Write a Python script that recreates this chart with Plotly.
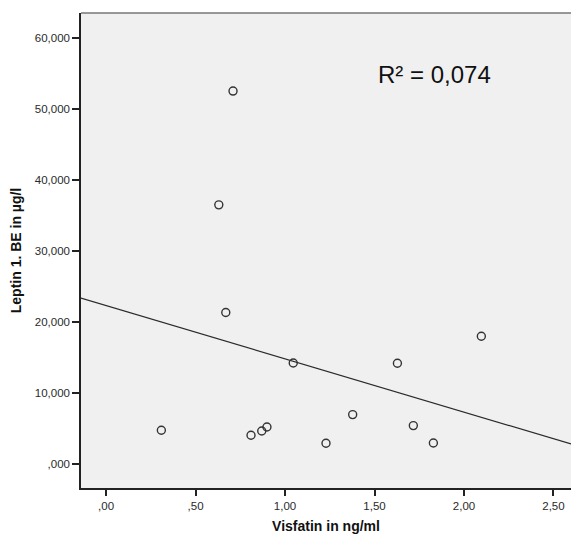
import numpy as np
import plotly.graph_objects as go

# Visfatin (ng/ml) vs. Leptin at first blood draw (µg/l)
visfatin = [0.309, 0.810, 0.870, 0.899, 1.046, 1.229, 1.378, 1.628, 1.717,
            1.829, 2.097, 0.7095, 0.630, 0.669]
leptin = [4.783, 4.080, 4.685, 5.250, 14.250, 2.955, 6.990, 14.210, 5.440,
          3.000, 18.010, 52.476, 36.480, 21.340]

x_tickvals = [0.0, 0.5, 1.0, 1.5, 2.0, 2.5]
x_ticktext = [",00", ",50", "1,00", "1,50", "2,00", "2,50"]
y_tickvals = [0, 10, 20, 30, 40, 50, 60]
y_ticktext = [",000", "10,000", "20,000", "30,000", "40,000", "50,000", "60,000"]

r2_label = "R² = 0,074"

x_range = [-0.14, 2.598]
y_range = [-3.33, 63.45]

# Least-squares fit line across the full x range
slope, intercept = np.polyfit(visfatin, leptin, 1)
fit_x = np.array(x_range)
fit_y = slope * fit_x + intercept

fig = go.Figure()
fig.add_trace(go.Scatter(
    x=fit_x, y=fit_y, mode="lines",
    line=dict(color="#2b2b2b", width=1.2),
    hoverinfo="skip", showlegend=False,
))
fig.add_trace(go.Scatter(
    x=visfatin, y=leptin, mode="markers",
    marker=dict(symbol="circle-open", size=8, color="#333333",
                line=dict(width=1.4, color="#333333")),
    showlegend=False,
))

tick_font = dict(family="Liberation Sans, Arial, sans-serif", size=11.5, color="#2a2a2a")
title_font = dict(family="Liberation Sans, Arial, sans-serif", size=14, color="#111111")

fig.update_xaxes(
    range=x_range, tickvals=x_tickvals, ticktext=x_ticktext,
    showgrid=False, zeroline=False,
    showline=True, linecolor="#222222", linewidth=1.5,
    ticks="outside", ticklen=6, tickwidth=1.5, tickcolor="#222222",
    tickfont=tick_font,
    title=dict(text="<b>Visfatin in ng/ml</b>", font=title_font, standoff=11),
)
fig.update_yaxes(
    range=y_range, tickvals=y_tickvals, ticktext=y_ticktext,
    showgrid=False, zeroline=False,
    showline=True, linecolor="#222222", linewidth=1.5,
    ticks="outside", ticklen=7, tickwidth=1.5, tickcolor="#222222",
    tickfont=tick_font,
    title=dict(text="<b>Leptin 1. BE in µg/l</b>", font=title_font, standoff=10),
)

# Top frame edge
fig.add_shape(type="line", xref="paper", yref="paper", x0=0, x1=1, y0=1, y1=1,
              line=dict(color="#777777", width=1.5))

fig.add_annotation(
    text=r2_label, xref="paper", yref="paper", x=0.603, y=0.870,
    xanchor="left", yanchor="middle", showarrow=False,
    font=dict(family="Liberation Sans, Arial, sans-serif", size=24, color="#111111"),
)

fig.update_layout(
    width=571, height=538,
    margin=dict(l=81, r=0, t=13, b=50),
    paper_bgcolor="white", plot_bgcolor="#F0F0F0",
)

fig.write_html("out.html")
